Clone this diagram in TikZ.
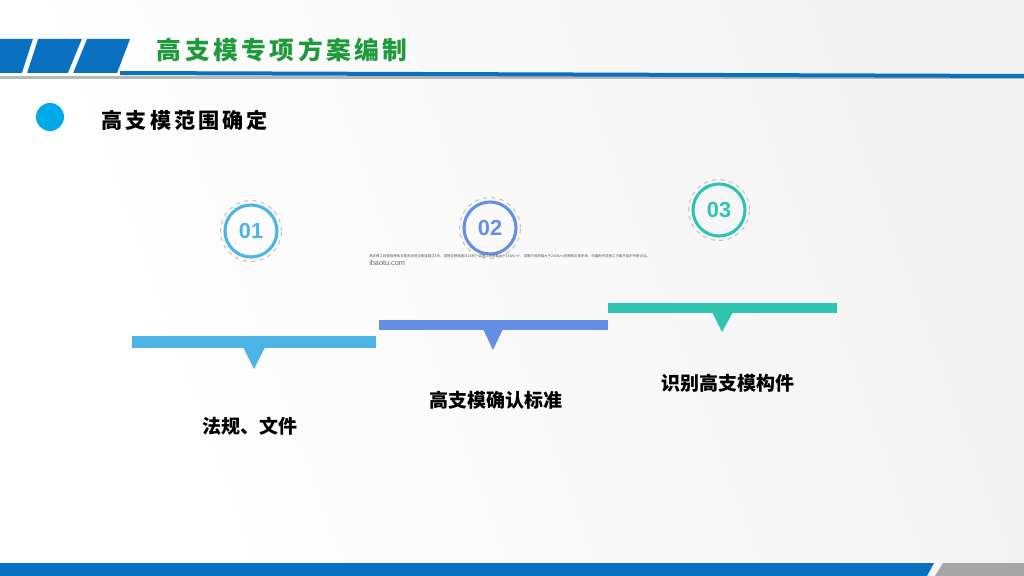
\documentclass[tikz,border=0pt]{standalone}
\usepackage{fontspec}
\setmainfont{Noto Sans CJK SC}
\newfontfamily\numfont{Liberation Sans}
\newfontfamily\spacedfont[LetterSpace=14]{Noto Sans CJK SC}
\definecolor{headblue}{HTML}{0A70C0}
\definecolor{titlegreen}{HTML}{1E9A3C}
\definecolor{dotcyan}{HTML}{00A9E8}
\definecolor{stepone}{HTML}{4CB4E7}
\definecolor{steptwo}{HTML}{6490E4}
\definecolor{stepthree}{HTML}{2EC4B0}
\definecolor{footgray}{HTML}{A6A6A6}
\begin{document}
\begin{tikzpicture}[x=0.025cm, y=-0.025cm,
    ring/.style={circle, draw, line width=2.2pt, minimum size=1.3cm, inner sep=0pt, font=\numfont\bfseries\fontsize{15.5}{16}\selectfont},
    halo/.style={circle, draw=gray!45, dashed, line width=0.8pt, minimum size=1.52cm, inner sep=0pt},
    steplabel/.style={font=\bfseries\fontsize{13.5}{16}\selectfont, text=black}
]
\useasboundingbox (0,0) rectangle (1024,576);
% background
\shade[left color=white, right color=gray!9, shading angle=110] (0,0) rectangle (1024,576);

% header band
\fill[footgray!80] (0,76) rectangle (1024,79);
\fill[headblue] (120,71) -- (1024,74) -- (1024,78) -- (120,75) -- cycle;
\fill[headblue] (0,39) -- (130,39) -- (117,73) -- (0,73) -- cycle;
\fill[white] (33,39) -- (38,39) -- (27,73) -- (22,73) -- cycle;
\fill[white] (82,39) -- (87,39) -- (73,73) -- (68,73) -- cycle;
\node[anchor=west, text=titlegreen, font=\spacedfont\bfseries\fontsize{17.6}{20}\selectfont] (title) at (152,50) {高支模专项方案编制};

% section heading
\fill[dotcyan] (50,117) circle (14);
\node[anchor=west, font=\spacedfont\bfseries\fontsize{15}{18}\selectfont] (heading) at (97,120) {高支模范围确定};

% step circles
\node[halo] (h1) at (251,231) {};
\node[ring, draw=stepone, text=stepone] (n1) at (251,231) {01};
\node[halo] (h2) at (490,228) {};
\node[ring, draw=steptwo, text=steptwo] (n2) at (490,228) {02};
\node[halo] (h3) at (719,210) {};
\node[ring, draw=stepthree, text=stepthree] (n3) at (719,210) {03};

% small note
\node[anchor=west, text=gray!70!black, font=\fontsize{2.45}{3}\selectfont, inner sep=0pt] (note) at (369,256) {高支模工程是指模板支撑系统搭设高度超过8米，或搭设跨度超过18米，或施工总荷载大于15kN/m²，或集中线荷载大于20kN/m的模板支撑系统，须编制专项施工方案并组织专家论证。};
\node[anchor=west, text=gray!80!black, font=\numfont\fontsize{5.2}{6}\selectfont, inner sep=0pt] (mark) at (369,263) {ibaotu.com};

% step bars
\fill[stepone] (132,336) rectangle (376,348);
\fill[stepone] (243,347) -- (265,347) -- (254,369) -- cycle;
\fill[steptwo] (379,320) rectangle (608,330);
\fill[steptwo] (483,329) -- (503,329) -- (493,350) -- cycle;
\fill[stepthree] (608,303) rectangle (837,313);
\fill[stepthree] (712,312) -- (733,312) -- (722,332) -- cycle;

% step labels
\node[steplabel] (l1) at (250,426) {法规、文件};
\node[steplabel] (l2) at (496,400) {高支模确认标准};
\node[steplabel] (l3) at (728,383) {识别高支模构件};

% footer
\fill[headblue] (0,563) -- (934,563) -- (927,576) -- (0,576) -- cycle;
\fill[footgray] (943,563) -- (1024,563) -- (1024,576) -- (935,576) -- cycle;
\end{tikzpicture}
\end{document}
